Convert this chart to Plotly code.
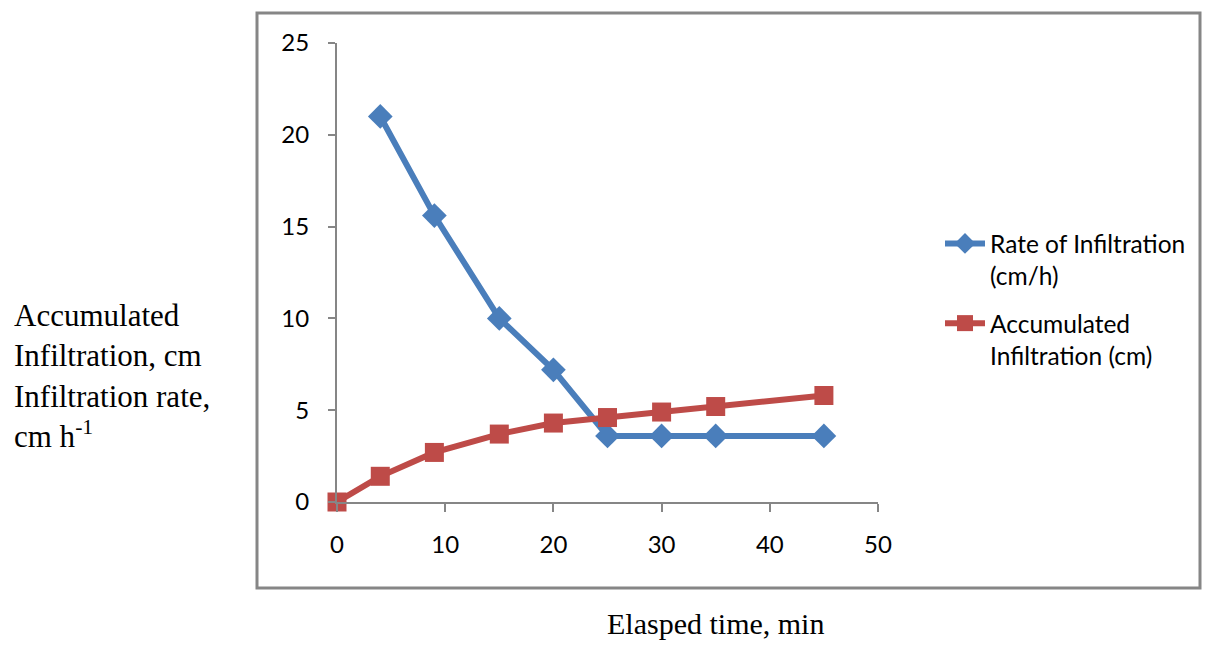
import plotly.graph_objects as go

# Data
rate_time = [4, 9, 15, 20, 25, 30, 35, 45]
rate_values = [21.0, 15.6, 10.0, 7.2, 3.6, 3.6, 3.6, 3.6]
acc_time = [0, 4, 9, 15, 20, 25, 30, 35, 45]
acc_values = [0.0, 1.4, 2.7, 3.7, 4.3, 4.6, 4.9, 5.2, 5.8]
x_ticks = [0, 10, 20, 30, 40, 50]
y_ticks = [0, 5, 10, 15, 20, 25]

BLUE = "#4A7EBB"
RED = "#BE4B48"
AXIS = "#868686"
TICKFONT = dict(family="Lato, Open Sans, sans-serif", size=24, color="#000000")
SERIF = "Liberation Serif, Times New Roman, serif"

fig = go.Figure()
fig.add_trace(go.Scatter(
    x=rate_time, y=rate_values, mode="lines+markers",
    name="Rate of Infiltration<br>(cm/h)", legendgroup="rate",
    line=dict(color=BLUE, width=6),
    marker=dict(symbol="diamond", size=19, color=BLUE),
    cliponaxis=False,
))
fig.add_trace(go.Scatter(
    x=acc_time, y=acc_values, mode="lines+markers",
    name="Accumulated<br>Infiltration (cm)", legendgroup="acc",
    line=dict(color=RED, width=6),
    marker=dict(symbol="square", size=19, color=RED),
    cliponaxis=False,
))

L, R, T, B = 337, 878, 43, 502
W, H = 1216, 645
pw, ph = R - L, B - T

def px(xp):
    return (xp - L) / pw

def py(yp):
    return (B - yp) / ph

fig.update_layout(
    width=W, height=H,
    margin=dict(l=L, r=W - R, t=T, b=H - B, pad=0),
    paper_bgcolor="white", plot_bgcolor="white",
    showlegend=True,
    legend=dict(
        x=px(940), y=py(221), xanchor="left", yanchor="top",
        font=dict(family="Lato, Open Sans, sans-serif", size=24.5, color="#000000"),
        tracegroupgap=13, itemwidth=40, valign="top", bgcolor="rgba(0,0,0,0)",
    ),
    xaxis=dict(
        range=[0, 50], tickvals=x_ticks, showgrid=False, zeroline=False,
        showline=True, linecolor=AXIS, linewidth=2,
        ticks="outside", ticklen=8, tickcolor=AXIS, tickwidth=2,
        tickfont=TICKFONT, ticklabelstandoff=12,
    ),
    yaxis=dict(
        range=[0, 25], tickvals=y_ticks, showgrid=False, zeroline=False,
        showline=True, linecolor=AXIS, linewidth=2,
        ticks="outside", ticklen=7, tickcolor=AXIS, tickwidth=2,
        tickfont=TICKFONT, ticklabelstandoff=14,
    ),
    shapes=[dict(
        type="rect", xref="paper", yref="paper",
        x0=px(257), x1=px(1200), y0=py(588), y1=py(13),
        line=dict(color=AXIS, width=3), fillcolor="rgba(0,0,0,0)", layer="below",
    )],
    annotations=[
        dict(
            xref="paper", yref="paper", x=px(12), y=py(376),
            xanchor="left", yanchor="middle", align="left", showarrow=False,
            text="Accumulated<br>Infiltration, cm<br>Infiltration rate,<br>cm h<sup>-1</sup>",
            font=dict(family=SERIF, size=31, color="#000000"),
        ),
        dict(
            xref="paper", yref="paper", x=px(715), y=py(623),
            xanchor="center", yanchor="middle", showarrow=False,
            text="Elasped time, min",
            font=dict(family=SERIF, size=30, color="#000000"),
        ),
    ],
)

fig.write_html("out.html")
